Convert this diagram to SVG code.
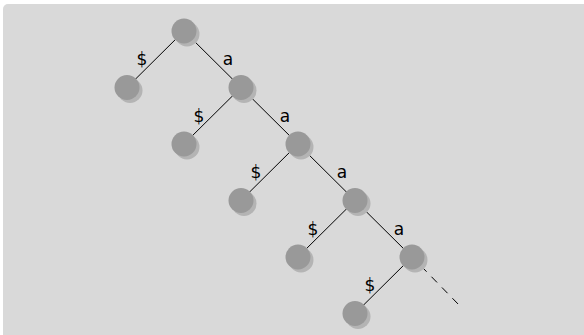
<svg xmlns="http://www.w3.org/2000/svg" width="584" height="335" viewBox="0 0 584 335">
<defs>
<style>
.bg{fill:#d9d9d9}
.e{stroke:#000;stroke-width:1;fill:none}
.d{stroke:#000;stroke-width:1;fill:none;stroke-dasharray:8 7}
.sh{fill:#b4b4b4}
.n{fill:#999999}
.t{font-family:"DejaVu Sans",Verdana,sans-serif;font-size:17px;fill:#000;text-anchor:middle}
</style>
<g id="node">
<circle class="sh" cx="3" cy="3" r="12.5"/>
<circle class="n" cx="0" cy="0" r="12.5"/>
</g>
</defs>
<rect class="bg" x="3" y="4" width="586" height="336" rx="5"/>
<g id="connectors">
<line class="e" x1="184" y1="31" x2="127" y2="87.5"/>
<line class="e" x1="184" y1="31" x2="241" y2="87.5"/>
<line class="e" x1="241" y1="87.5" x2="184" y2="144"/>
<line class="e" x1="241" y1="87.5" x2="298" y2="144"/>
<line class="e" x1="298" y1="144" x2="241" y2="200.5"/>
<line class="e" x1="298" y1="144" x2="355" y2="200.5"/>
<line class="e" x1="355" y1="200.5" x2="298" y2="257"/>
<line class="e" x1="355" y1="200.5" x2="412" y2="257"/>
<line class="e" x1="412" y1="257" x2="355" y2="313.5"/>
<line class="d" x1="421" y1="266" x2="460" y2="306"/>
</g>
<g id="labels">
<text class="t" x="142" y="65">$</text>
<text class="t" x="228" y="65">a</text>
<text class="t" x="199" y="121.5">$</text>
<text class="t" x="285" y="121.5">a</text>
<text class="t" x="256" y="178">$</text>
<text class="t" x="342" y="178">a</text>
<text class="t" x="313" y="234.5">$</text>
<text class="t" x="399" y="234.5">a</text>
<text class="t" x="370" y="291">$</text>
</g>
<g id="n0"><use href="#node" x="184" y="31"/></g>
<g id="n1"><use href="#node" x="127" y="87.5"/></g>
<g id="n2"><use href="#node" x="241" y="87.5"/></g>
<g id="n3"><use href="#node" x="184" y="144"/></g>
<g id="n4"><use href="#node" x="298" y="144"/></g>
<g id="n5"><use href="#node" x="241" y="200.5"/></g>
<g id="n6"><use href="#node" x="355" y="200.5"/></g>
<g id="n7"><use href="#node" x="298" y="257"/></g>
<g id="n8"><use href="#node" x="412" y="257"/></g>
<g id="n9"><use href="#node" x="355" y="313.5"/></g>
</svg>
